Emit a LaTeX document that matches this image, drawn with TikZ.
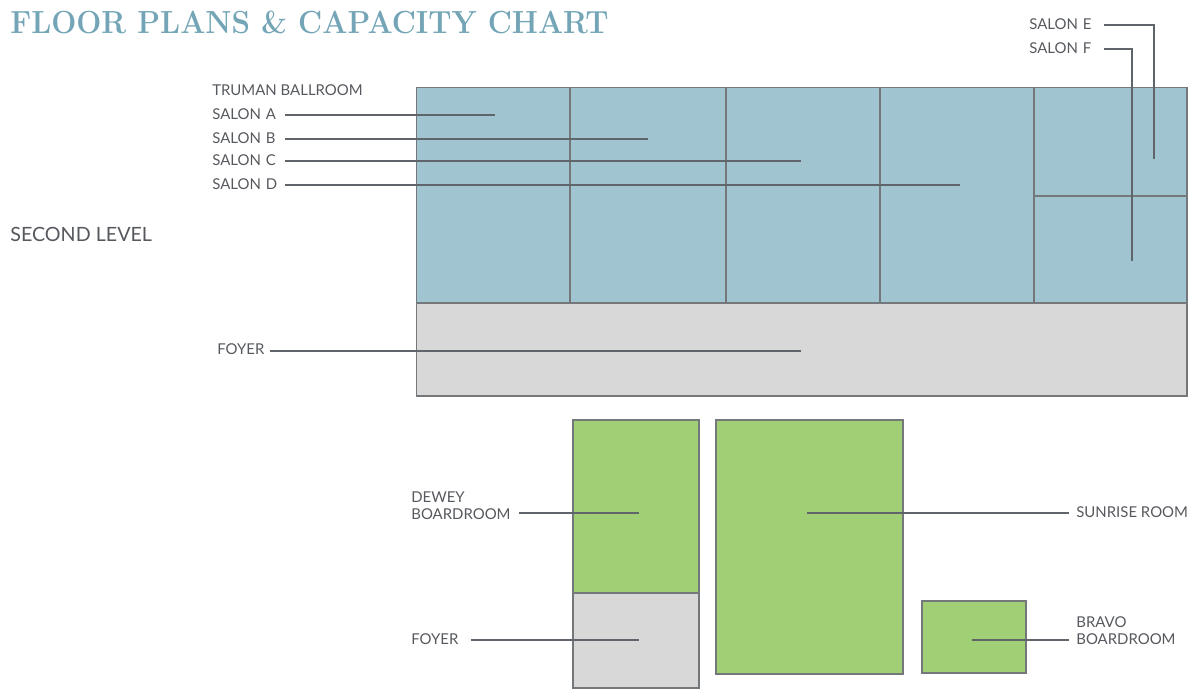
\documentclass[tikz,border=0pt]{standalone}
\usepackage{fontspec}
\setsansfont{Lato}
\usepackage{tikz}
\definecolor{roomblue}{HTML}{A1C4D1}
\definecolor{roomgray}{HTML}{D8D8D8}
\definecolor{roomgreen}{HTML}{A0CF76}
\definecolor{wallgray}{HTML}{75787B}
\definecolor{leadgray}{HTML}{5F656B}
\definecolor{titleblue}{HTML}{73A5B6}
\definecolor{textgray}{HTML}{55585D}
\tikzset{
	room/.style={draw=wallgray, line width=1pt},
	leader/.style={draw=leadgray, line width=0.6pt},
	lbl/.style={anchor=west, inner sep=0pt, text=textgray, text depth=1.2pt, font=\sffamily\fontsize{8.5}{9.8}\selectfont, align=left},
}
\begin{document}
\begin{tikzpicture}[x=0.02cm, y=-0.02cm]
	\useasboundingbox (0,0) rectangle (1200,699);

	% second level
	\fill [roomblue] (416.5,87.5) rectangle (1187,303);
	\draw [room, fill=roomgray] (416.5,303) rectangle (1187,396);
	\draw [room] (416.5,87.5) rectangle (1187,303);
	\foreach \x in {570,726,880,1034}
		\draw [room] (\x,87.5)--(\x,303);
	\draw [room] (1034,196)--(1187,196);

	% first level
	\draw [room, fill=roomgreen] (573,420) rectangle (699,593);
	\draw [room, fill=roomgray] (573,593) rectangle (699,688);
	\draw [room, fill=roomgreen] (716,420) rectangle (903,674);
	\draw [room, fill=roomgreen] (922,601) rectangle (1026,673);

	\node [anchor=west, inner sep=0pt, text=titleblue] (title) at (10,22.5)
		{\scalebox{0.927}[1]{\fontsize{18.2}{20}\selectfont\bfseries\addfontfeature{LetterSpace=12.5}FLOOR PLANS \& CAPACITY CHART}};
	\node [lbl, text depth=0pt, font=\sffamily\fontsize{11.2}{12}\selectfont] (second) at (10,234.5) {SECOND LEVEL};
	\node [lbl] (truman) at (212,91) {TRUMAN BALLROOM};

	% labels that get a leader: text width stops where the line starts
	\foreach \nm/\txt/\y/\xend in {salona/SALON A/115/495, salonb/SALON B/139/648, salonc/SALON C/161/801, salond/SALON D/185/960} {
		\node [lbl, text width=41.4pt] (\nm) at (212,\y) {\txt};
		\coordinate (\nm end) at (\xend,\y);
		\draw [leader] (\nm.east) -- (\nm end);
	}

	\node [lbl, text width=42pt] (salone) at (1029,25) {SALON E};
	\coordinate (saloneend) at (1154,159);
	\draw [leader] (salone.east) -| (saloneend);
	\node [lbl, text width=42pt] (salonf) at (1029,49) {SALON F};
	\coordinate (salonfend) at (1132,261);
	\draw [leader] (salonf.east) -| (salonfend);

	\node [lbl, text width=29.5pt, text depth=2pt] (foyertop) at (217,351) {FOYER};
	\coordinate (foyertopend) at (801,351);
	\draw [leader] (foyertop.east) -- (foyertopend);

	\node [lbl, text width=61.2pt] (dewey) at (411,498) {DEWEY\\BOARDROOM};
	\coordinate (deweyend) at (639,513);
	\draw [leader] (deweyend -| dewey.east) -- (deweyend);

	\node [lbl, text width=33.5pt] (foyerlow) at (411,640) {FOYER};
	\coordinate (foyerlowend) at (639,640);
	\draw [leader] (foyerlow.east) -- (foyerlowend);

	\node [lbl] (sunrise) at (1076,513) {SUNRISE ROOM};
	\coordinate (sunriseend) at (807,513);
	\draw [leader, shorten >=4pt] (sunriseend) -- (sunrise.west);

	\node [lbl] (bravo) at (1076,631.5) {BRAVO\\BOARDROOM};
	\coordinate (bravoend) at (972,640);
	\draw [leader, shorten >=4pt] (bravoend) -- (bravoend -| bravo.west);
\end{tikzpicture}
\end{document}
